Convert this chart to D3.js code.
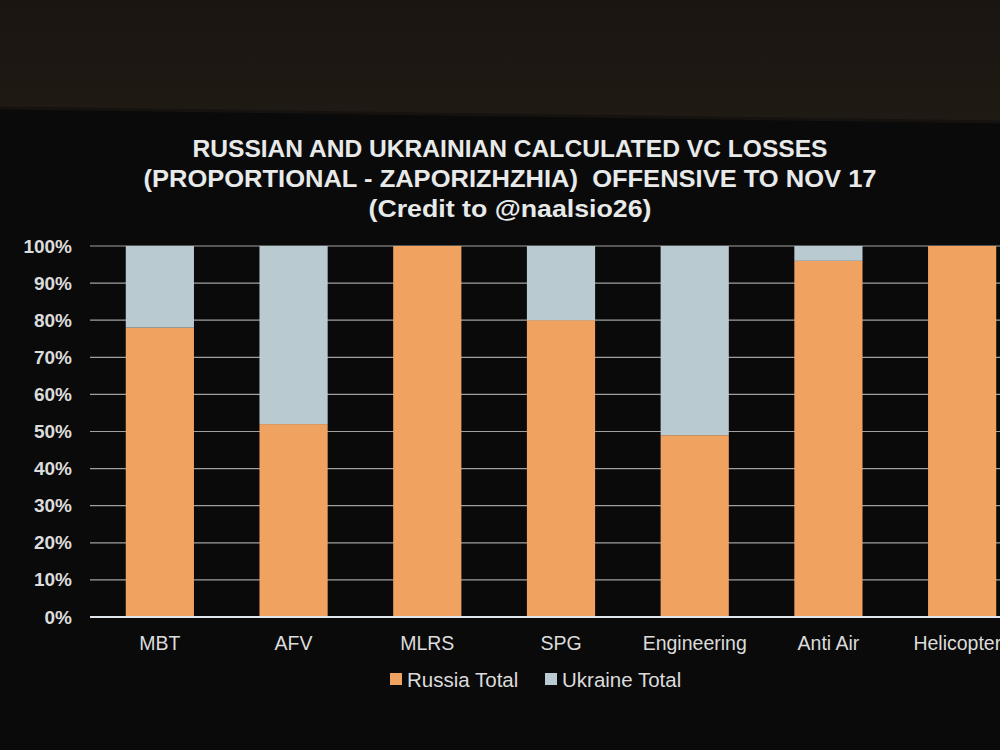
<!DOCTYPE html>
<html>
<head>
<meta charset="utf-8">
<script src="https://cdn.jsdelivr.net/npm/d3@7"></script>
<style>
  html, body { margin: 0; padding: 0; background: #0b0a0a; }
  svg { display: block; }
</style>
</head>
<body>
<svg id="chart" width="1000" height="750"></svg>
<script>
const categories = ["MBT", "AFV", "MLRS", "SPG", "Engineering", "Anti Air", "Helicopters"];
const russiaTotal = [78, 52, 100, 80, 49, 96, 100];
const ukraineTotal = [22, 48, 0, 20, 51, 4, 0];
const seriesNames = ["Russia Total", "Ukraine Total"];
const yTicks = [0, 10, 20, 30, 40, 50, 60, 70, 80, 90, 100];
const titleLines = [
  "RUSSIAN AND UKRAINIAN CALCULATED VC LOSSES",
  "(PROPORTIONAL - ZAPORIZHZHIA)\u00A0\u00A0OFFENSIVE TO NOV 17",
  "(Credit to @naalsio26)"
];

const colors = { "Russia Total": "#f0a260", "Ukraine Total": "#b9cad0" };

const svg = d3.select("#chart");
const W = 1000, H = 750;

// photo frame: dark top band above screen
const defs = svg.append("defs");
const g1 = defs.append("linearGradient").attr("id", "topband").attr("x1", 0).attr("x2", 0).attr("y1", 0).attr("y2", 1);
g1.append("stop").attr("offset", "0%").attr("stop-color", "#1a1511");
g1.append("stop").attr("offset", "100%").attr("stop-color", "#201a14");
svg.append("rect").attr("x", 0).attr("y", 0).attr("width", W).attr("height", H).attr("fill", "#0a0a0a");
svg.append("path").attr("d", "M0,0 H1000 V122 L0,108 Z").attr("fill", "url(#topband)");
svg.append("path").attr("d", "M0,108 L1000,122").attr("stroke", "#15120f").attr("stroke-width", 3);

// title
const titleWidths = [635, 733, 283];
const title = svg.append("g").attr("fill", "#e8eaea")
  .attr("font-family", "'Liberation Sans', Arial, sans-serif")
  .attr("font-weight", "bold").attr("font-size", 24).attr("text-anchor", "middle");
titleLines.forEach((t, i) => {
  title.append("text").attr("x", 510).attr("y", 157 + i * 30).text(t)
    .attr("textLength", titleWidths[i]).attr("lengthAdjust", "spacingAndGlyphs");
});

// scales
const x = d3.scaleBand().domain(categories).range([93, 1029]).paddingInner(0.49).paddingOuter(0.245);
const y = d3.scaleLinear().domain([0, 100]).range([617, 246]);

const data = categories.map((c, i) => ({ cat: c, "Russia Total": russiaTotal[i], "Ukraine Total": ukraineTotal[i] }));
const stacked = d3.stack().keys(seriesNames)(data);

// gridlines
svg.append("g").selectAll("line").data(yTicks.filter(d => d > 0)).join("line")
  .attr("x1", 90).attr("x2", 1000)
  .attr("y1", d => y(d)).attr("y2", d => y(d))
  .attr("stroke", "#a0a0a0").attr("stroke-width", 1.2);

// bars
svg.append("g").selectAll("g").data(stacked).join("g")
  .attr("fill", d => colors[d.key])
  .selectAll("rect").data(d => d).join("rect")
  .attr("x", d => x(d.data.cat))
  .attr("width", x.bandwidth())
  .attr("y", d => y(d[1]))
  .attr("height", d => Math.max(0, y(d[0]) - y(d[1])));

// x axis line
svg.append("line").attr("x1", 90).attr("x2", 1000).attr("y1", y(0)).attr("y2", y(0))
  .attr("stroke", "#dfe6ee").attr("stroke-width", 2);

// y axis labels
const yAxis = d3.axisLeft(y).tickValues(yTicks).tickFormat(d => d + "%").tickSize(0).tickPadding(0);
const ya = svg.append("g").attr("transform", "translate(72,0)").call(yAxis);
ya.select(".domain").remove();
ya.selectAll("text").attr("fill", "#dcdcdc").attr("font-size", 19).attr("font-weight", "bold")
  .attr("font-family", "'Liberation Sans', Arial, sans-serif");

// x axis labels
const xAxis = d3.axisBottom(x).tickSize(0).tickPadding(0);
const xa = svg.append("g").attr("transform", `translate(0,${y(0) + 19})`).call(xAxis);
xa.select(".domain").remove();
xa.selectAll("text").attr("fill", "#dcdcdc").attr("font-size", 19.5)
  .attr("font-family", "'Liberation Sans', Arial, sans-serif");

// legend
const legend = svg.append("g").attr("font-family", "'Liberation Sans', Arial, sans-serif")
  .attr("font-size", 20.5).attr("fill", "#dcdcdc");
const legX = [390, 545];
seriesNames.forEach((s, i) => {
  legend.append("rect").attr("x", legX[i]).attr("y", 673).attr("width", 12).attr("height", 12).attr("fill", colors[s]);
  legend.append("text").attr("x", legX[i] + 17).attr("y", 687).text(s);
});
</script>
</body>
</html>
